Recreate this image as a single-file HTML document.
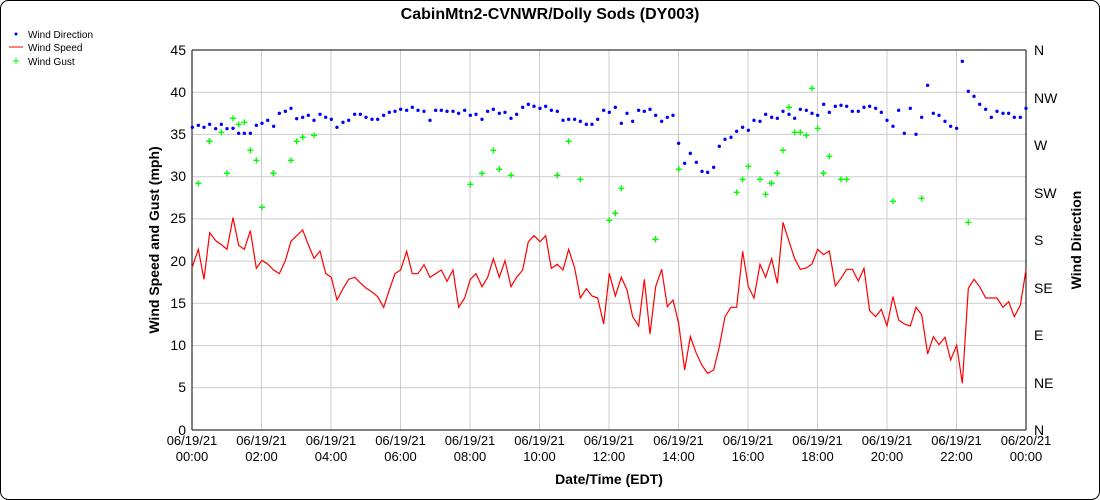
<!DOCTYPE html>
<html><head><style>body{margin:0;background:#fff}svg{display:block;font-family:"Liberation Sans",sans-serif}</style></head><body>
<svg width="1100" height="500" xmlns="http://www.w3.org/2000/svg">
<rect x="0.5" y="0.5" width="1099" height="499" rx="8" fill="#fff" stroke="#000"/>
<text x="550" y="19" font-size="16" font-weight="bold" text-anchor="middle">CabinMtn2-CVNWR/Dolly Sods (DY003)</text>
<g stroke="#ccc" stroke-width="1">
<line x1="192" y1="92.2" x2="1026" y2="92.2"/><line x1="192" y1="134.4" x2="1026" y2="134.4"/><line x1="192" y1="176.7" x2="1026" y2="176.7"/><line x1="192" y1="218.9" x2="1026" y2="218.9"/><line x1="192" y1="261.1" x2="1026" y2="261.1"/><line x1="192" y1="303.3" x2="1026" y2="303.3"/><line x1="192" y1="345.6" x2="1026" y2="345.6"/><line x1="192" y1="387.8" x2="1026" y2="387.8"/>
<line x1="261.5" y1="50" x2="261.5" y2="430"/><line x1="331" y1="50" x2="331" y2="430"/><line x1="400.5" y1="50" x2="400.5" y2="430"/><line x1="470" y1="50" x2="470" y2="430"/><line x1="539.5" y1="50" x2="539.5" y2="430"/><line x1="609" y1="50" x2="609" y2="430"/><line x1="678.5" y1="50" x2="678.5" y2="430"/><line x1="748" y1="50" x2="748" y2="430"/><line x1="817.5" y1="50" x2="817.5" y2="430"/><line x1="887" y1="50" x2="887" y2="430"/><line x1="956.5" y1="50" x2="956.5" y2="430"/>
</g>
<g stroke="#000" fill="none"><line x1="192" y1="50" x2="1026" y2="50"/><line x1="192" y1="50" x2="192" y2="430"/><line x1="1026" y1="50" x2="1026" y2="430"/><line x1="192" y1="430" x2="1026" y2="430"/></g>
<g font-size="14" text-anchor="end">
<text x="186" y="55">45</text><text x="186" y="97">40</text><text x="186" y="139">35</text><text x="186" y="181">30</text><text x="186" y="223">25</text><text x="186" y="266">20</text><text x="186" y="308">15</text><text x="186" y="350">10</text><text x="186" y="392">5</text><text x="186" y="435">0</text></g>
<g font-size="14"><text x="1034" y="55">N</text><text x="1034" y="103">NW</text><text x="1034" y="150">W</text><text x="1034" y="198">SW</text><text x="1034" y="245">S</text><text x="1034" y="293">SE</text><text x="1034" y="340">E</text><text x="1034" y="388">NE</text><text x="1034" y="435">N</text></g>
<g font-size="13" text-anchor="middle">
<text x="192" y="445">06/19/21</text><text x="192" y="461">00:00</text>
<text x="261.5" y="445">06/19/21</text><text x="261.5" y="461">02:00</text>
<text x="331" y="445">06/19/21</text><text x="331" y="461">04:00</text>
<text x="400.5" y="445">06/19/21</text><text x="400.5" y="461">06:00</text>
<text x="470" y="445">06/19/21</text><text x="470" y="461">08:00</text>
<text x="539.5" y="445">06/19/21</text><text x="539.5" y="461">10:00</text>
<text x="609" y="445">06/19/21</text><text x="609" y="461">12:00</text>
<text x="678.5" y="445">06/19/21</text><text x="678.5" y="461">14:00</text>
<text x="748" y="445">06/19/21</text><text x="748" y="461">16:00</text>
<text x="817.5" y="445">06/19/21</text><text x="817.5" y="461">18:00</text>
<text x="887" y="445">06/19/21</text><text x="887" y="461">20:00</text>
<text x="956.5" y="445">06/19/21</text><text x="956.5" y="461">22:00</text>
<text x="1026" y="445">06/20/21</text><text x="1026" y="461">00:00</text>
</g>
<text x="609" y="484" font-size="14" font-weight="bold" text-anchor="middle">Date/Time (EDT)</text>
<text transform="translate(159,240) rotate(-90)" font-size="14" font-weight="bold" text-anchor="middle">Wind Speed and Gust (mph)</text>
<text transform="translate(1081,240) rotate(-90)" font-size="14" font-weight="bold" text-anchor="middle">Wind Direction</text>
<g font-size="10"><circle cx="16" cy="34" r="1.5" fill="#00f"/><text x="28" y="38">Wind Direction</text>
<line x1="9" y1="47" x2="23" y2="47" stroke="#f00"/><text x="28" y="51">Wind Speed</text>
<path d="M13 61h6M16 58v6" stroke="#0f0"/><text x="28" y="65">Wind Gust</text></g>
<g stroke="#999" fill="none"><path d="M206 141h6M209 138v6M224 173h6M227 170v6M270 173h6M273 170v6M496 169h6M499 166v6M508 175h6M511 172v6M554 175h6M557 172v6M612 213h6M615 210v6M652 239h6M655 236v6M676 169h6M679 166v6M767 183h6M770 180v6M774 173h6M777 170v6M786 107h6M789 104v6M820 173h6M823 170v6M890 201h6M893 198v6"/></g>
<g transform="translate(180,40) scale(0.33333)">
<polyline fill="none" stroke="#f00" stroke-width="3.6" points="37,680 55,628 72,718 89,578 107,602 124,614 141,628 159,533 176,616 193,628 211,572 229,685 246,661 263,672 281,690 298,701 316,662 333,604 350,587 368,570 385,614 402,655 420,633 437,700 454,712 471,780 489,746 506,718 524,712 541,729 558,744 576,756 593,770 611,802 628,750 645,701 662,690 680,634 697,701 714,701 732,674 750,712 767,701 784,690 801,724 819,690 836,802 854,774 871,718 888,701 906,740 923,712 940,656 958,712 975,662 993,740 1010,712 1028,690 1045,605 1062,587 1080,605 1097,587 1114,685 1132,673 1149,690 1166,628 1184,684 1201,774 1219,746 1236,768 1253,774 1271,852 1288,700 1306,768 1324,712 1341,750 1358,830 1376,858 1393,718 1410,882 1427,740 1445,688 1462,800 1479,780 1496,850 1514,990 1531,890 1549,940 1566,976 1583,1000 1601,990 1618,920 1635,830 1653,802 1670,802 1688,634 1705,740 1722,774 1740,673 1757,712 1775,656 1792,730 1809,547 1827,604 1844,656 1861,688 1879,684 1896,672 1913,628 1931,644 1948,633 1966,738 1983,715 2000,688 2017,688 2035,723 2052,685 2069,812 2087,830 2104,808 2121,858 2139,770 2156,840 2173,852 2191,858 2208,802 2225,824 2243,942 2260,890 2277,914 2295,892 2312,960 2330,916 2347,1030 2365,745 2382,718 2399,740 2417,774 2434,774 2451,774 2469,802 2486,785 2503,830 2521,796 2538,690"/>
<g fill="#00f">
<circle cx="37" cy="262" r="5"/><circle cx="55" cy="256" r="5"/><circle cx="72" cy="262" r="5"/><circle cx="89" cy="253" r="5"/><circle cx="107" cy="266" r="5"/><circle cx="124" cy="253" r="5"/><circle cx="141" cy="266" r="5"/><circle cx="159" cy="265" r="5"/><circle cx="176" cy="280" r="5"/><circle cx="193" cy="280" r="5"/><circle cx="211" cy="280" r="5"/><circle cx="229" cy="256" r="5"/><circle cx="246" cy="250" r="5"/><circle cx="263" cy="241" r="5"/><circle cx="281" cy="259" r="5"/><circle cx="298" cy="220" r="5"/><circle cx="316" cy="214" r="5"/><circle cx="333" cy="205" r="5"/><circle cx="350" cy="236" r="5"/><circle cx="368" cy="232" r="5"/><circle cx="385" cy="226" r="5"/><circle cx="402" cy="241" r="5"/><circle cx="420" cy="223" r="5"/><circle cx="437" cy="232" r="5"/><circle cx="454" cy="238" r="5"/><circle cx="471" cy="262" r="5"/><circle cx="489" cy="247" r="5"/><circle cx="506" cy="241" r="5"/><circle cx="524" cy="223" r="5"/><circle cx="541" cy="223" r="5"/><circle cx="558" cy="232" r="5"/><circle cx="576" cy="238" r="5"/><circle cx="593" cy="238" r="5"/><circle cx="611" cy="226" r="5"/><circle cx="628" cy="217" r="5"/><circle cx="645" cy="214" r="5"/><circle cx="662" cy="208" r="5"/><circle cx="680" cy="211" r="5"/><circle cx="697" cy="202" r="5"/><circle cx="714" cy="211" r="5"/><circle cx="732" cy="214" r="5"/><circle cx="750" cy="241" r="5"/><circle cx="767" cy="211" r="5"/><circle cx="784" cy="211" r="5"/><circle cx="801" cy="214" r="5"/><circle cx="819" cy="214" r="5"/><circle cx="836" cy="220" r="5"/><circle cx="854" cy="211" r="5"/><circle cx="871" cy="226" r="5"/><circle cx="888" cy="223" r="5"/><circle cx="906" cy="238" r="5"/><circle cx="923" cy="214" r="5"/><circle cx="940" cy="208" r="5"/><circle cx="958" cy="220" r="5"/><circle cx="975" cy="217" r="5"/><circle cx="993" cy="235" r="5"/><circle cx="1010" cy="223" r="5"/><circle cx="1028" cy="202" r="5"/><circle cx="1045" cy="193" r="5"/><circle cx="1062" cy="199" r="5"/><circle cx="1080" cy="205" r="5"/><circle cx="1097" cy="199" r="5"/><circle cx="1114" cy="211" r="5"/><circle cx="1132" cy="214" r="5"/><circle cx="1149" cy="241" r="5"/><circle cx="1166" cy="238" r="5"/><circle cx="1184" cy="238" r="5"/><circle cx="1201" cy="244" r="5"/><circle cx="1219" cy="253" r="5"/><circle cx="1236" cy="253" r="5"/><circle cx="1253" cy="238" r="5"/><circle cx="1271" cy="211" r="5"/><circle cx="1288" cy="217" r="5"/>
<circle cx="1306" cy="202" r="5"/><circle cx="1324" cy="250" r="5"/><circle cx="1341" cy="220" r="5"/><circle cx="1358" cy="244" r="5"/><circle cx="1376" cy="211" r="5"/><circle cx="1393" cy="214" r="5"/><circle cx="1410" cy="208" r="5"/><circle cx="1427" cy="226" r="5"/><circle cx="1445" cy="244" r="5"/><circle cx="1462" cy="232" r="5"/><circle cx="1479" cy="226" r="5"/><circle cx="1496" cy="310" r="5"/><circle cx="1514" cy="370" r="5"/><circle cx="1531" cy="340" r="5"/><circle cx="1549" cy="367" r="5"/><circle cx="1566" cy="394" r="5"/><circle cx="1583" cy="397" r="5"/><circle cx="1601" cy="382" r="5"/><circle cx="1618" cy="319" r="5"/><circle cx="1635" cy="298" r="5"/><circle cx="1653" cy="292" r="5"/><circle cx="1670" cy="274" r="5"/><circle cx="1688" cy="262" r="5"/><circle cx="1705" cy="271" r="5"/><circle cx="1722" cy="241" r="5"/><circle cx="1740" cy="244" r="5"/><circle cx="1757" cy="223" r="5"/><circle cx="1775" cy="232" r="5"/><circle cx="1792" cy="235" r="5"/><circle cx="1809" cy="214" r="5"/><circle cx="1827" cy="223" r="5"/><circle cx="1844" cy="235" r="5"/><circle cx="1861" cy="208" r="5"/><circle cx="1879" cy="211" r="5"/><circle cx="1896" cy="220" r="5"/><circle cx="1913" cy="226" r="5"/><circle cx="1931" cy="193" r="5"/><circle cx="1948" cy="217" r="5"/><circle cx="1966" cy="199" r="5"/><circle cx="1983" cy="196" r="5"/><circle cx="2000" cy="199" r="5"/><circle cx="2017" cy="214" r="5"/><circle cx="2035" cy="214" r="5"/><circle cx="2052" cy="202" r="5"/><circle cx="2069" cy="199" r="5"/><circle cx="2087" cy="205" r="5"/><circle cx="2104" cy="217" r="5"/><circle cx="2121" cy="241" r="5"/><circle cx="2139" cy="259" r="5"/><circle cx="2156" cy="211" r="5"/><circle cx="2173" cy="280" r="5"/><circle cx="2191" cy="205" r="5"/><circle cx="2208" cy="283" r="5"/><circle cx="2225" cy="232" r="5"/><circle cx="2243" cy="136" r="5"/><circle cx="2260" cy="220" r="5"/><circle cx="2277" cy="226" r="5"/><circle cx="2295" cy="244" r="5"/><circle cx="2312" cy="259" r="5"/><circle cx="2330" cy="265" r="5"/><circle cx="2347" cy="64" r="5"/><circle cx="2365" cy="154" r="5"/><circle cx="2382" cy="169" r="5"/><circle cx="2399" cy="193" r="5"/><circle cx="2417" cy="208" r="5"/><circle cx="2434" cy="232" r="5"/><circle cx="2451" cy="214" r="5"/><circle cx="2469" cy="220" r="5"/><circle cx="2486" cy="220" r="5"/><circle cx="2503" cy="232" r="5"/><circle cx="2521" cy="232" r="5"/><circle cx="2538" cy="205" r="5"/>
</g>
<path fill="none" stroke="#0f0" stroke-width="4" d="M46 430h18M55 421v18M80 304h18M89 295v18M115 277h18M124 268v18M132 400h18M141 391v18M150 235h18M159 226v18M167 253h18M176 244v18M184 247h18M193 238v18M202 331h18M211 322v18M220 361h18M229 352v18M237 502h18M246 493v18M272 400h18M281 391v18M324 361h18M333 352v18M341 304h18M350 295v18M359 292h18M368 283v18M393 286h18M402 277v18M862 433h18M871 424v18M897 400h18M906 391v18M931 331h18M940 322v18M949 388h18M958 379v18M984 406h18M993 397v18M1123 406h18M1132 397v18M1157 304h18M1166 295v18M1192 418h18M1201 409v18M1279 541h18M1288 532v18M1297 520h18M1306 511v18M1315 445h18M1324 436v18M1418 598h18M1427 589v18M1487 388h18M1496 379v18M1661 457h18M1670 448v18M1679 418h18M1688 409v18M1696 379h18M1705 370v18M1731 418h18M1740 409v18M1748 463h18M1757 454v18M1766 430h18M1775 421v18M1783 400h18M1792 391v18M1800 331h18M1809 322v18M1818 202h18M1827 193v18M1835 277h18M1844 268v18M1852 277h18M1861 268v18M1870 286h18M1879 277v18M1887 145h18M1896 136v18M1904 265h18M1913 256v18M1922 400h18M1931 391v18M1939 349h18M1948 340v18M1974 418h18M1983 409v18M1991 418h18M2000 409v18M2130 484h18M2139 475v18M2216 475h18M2225 466v18M2356 547h18M2365 538v18"/>
</g>
</svg>
</body></html>
